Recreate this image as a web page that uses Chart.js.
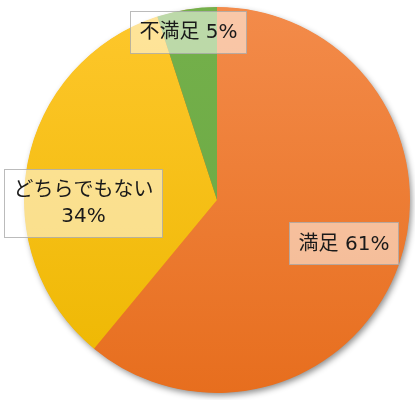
<!DOCTYPE html>
<html><head><meta charset="utf-8">
<script src="https://cdn.jsdelivr.net/npm/chart.js@4"></script>
<style>html,body{margin:0;padding:0;background:#fff;}#wrap{width:415px;height:400px;}</style>
</head><body><div id="wrap"><canvas id="c"></canvas></div>
<script>
const categories = ['満足', 'どちらでもない', '不満足'];
const values = [61, 34, 5];
const labelTexts = [['満足 61%'], ['どちらでもない', '34%'], ['不満足 5%']];

const gradStops = [['#F38B4A', '#E76E1E'], ['#FEC72C', '#EDB700'], ['#74B04B', '#6AA842']];

function bg(ctx) {
  const chart = ctx.chart, a = chart.chartArea;
  if (!a) return gradStops[ctx.dataIndex][0];
  const g = chart.ctx.createLinearGradient(0, a.top, 0, a.bottom);
  g.addColorStop(0, gradStops[ctx.dataIndex][0]);
  g.addColorStop(1, gradStops[ctx.dataIndex][1]);
  return g;
}

const shadowPlugin = {
  id: 'shadow',
  beforeDatasetsDraw(chart) {
    const arc = chart.getDatasetMeta(0).data[0];
    if (!arc) return;
    const c = chart.ctx;
    c.save();
    c.shadowColor = 'rgba(0,0,0,0.45)';
    c.shadowBlur = 6;
    c.shadowOffsetX = 2;
    c.shadowOffsetY = 3;
    c.fillStyle = '#E8711E';
    c.beginPath();
    c.arc(arc.x, arc.y, arc.outerRadius - 0.5, 0, Math.PI * 2);
    c.fill();
    c.restore();
  }
};

const labelPlugin = {
  id: 'boxLabels',
  afterDatasetsDraw(chart, args, opts) {
    const meta = chart.getDatasetMeta(0);
    const c = chart.ctx;
    c.save();
    c.font = opts.font;
    c.textAlign = 'center';
    c.textBaseline = 'middle';
    meta.data.forEach((arc, i) => {
      const lines = labelTexts[i];
      const cx = arc.x + opts.offsets[i][0] * arc.outerRadius;
      const cy = arc.y + opts.offsets[i][1] * arc.outerRadius;
      let w = 0;
      lines.forEach(l => { w = Math.max(w, c.measureText(l).width); });
      const bw = Math.round(w + opts.padX * 2);
      const bh = lines.length * opts.lineHeight + opts.padY * 2;
      const x0 = Math.round(cx - bw / 2) + 0.5, y0 = Math.round(cy - bh / 2) + 0.5;
      c.fillStyle = 'rgba(255,255,255,0.52)';
      c.fillRect(x0, y0, bw, bh);
      c.strokeStyle = 'rgba(170,170,170,0.8)';
      c.lineWidth = 1;
      c.strokeRect(x0, y0, bw, bh);
      c.fillStyle = '#1a1a1a';
      lines.forEach((l, k) => {
        c.fillText(l, cx, cy - (lines.length - 1) * opts.lineHeight / 2 + k * opts.lineHeight + 1);
      });
    });
    c.restore();
  }
};

new Chart(document.getElementById('c'), {
  type: 'pie',
  data: {
    labels: categories,
    datasets: [{
      data: values,
      backgroundColor: bg,
      borderWidth: 0,
      hoverOffset: 0
    }]
  },
  options: {
    responsive: true,
    maintainAspectRatio: false,
    animation: false,
    layout: { padding: { top: 7, bottom: 7, left: 19, right: 0 } },
    plugins: {
      legend: { display: false },
      tooltip: { enabled: false },
      boxLabels: {
        font: '20px "DejaVu Sans", "Noto Sans CJK JP"',
        offsets: [[0.658, 0.225], [-0.692, 0.016], [-0.148, -0.870]],
        padX: 9, padY: 8, lineHeight: 26
      }
    }
  },
  plugins: [shadowPlugin, labelPlugin]
});
</script>
</body></html>
